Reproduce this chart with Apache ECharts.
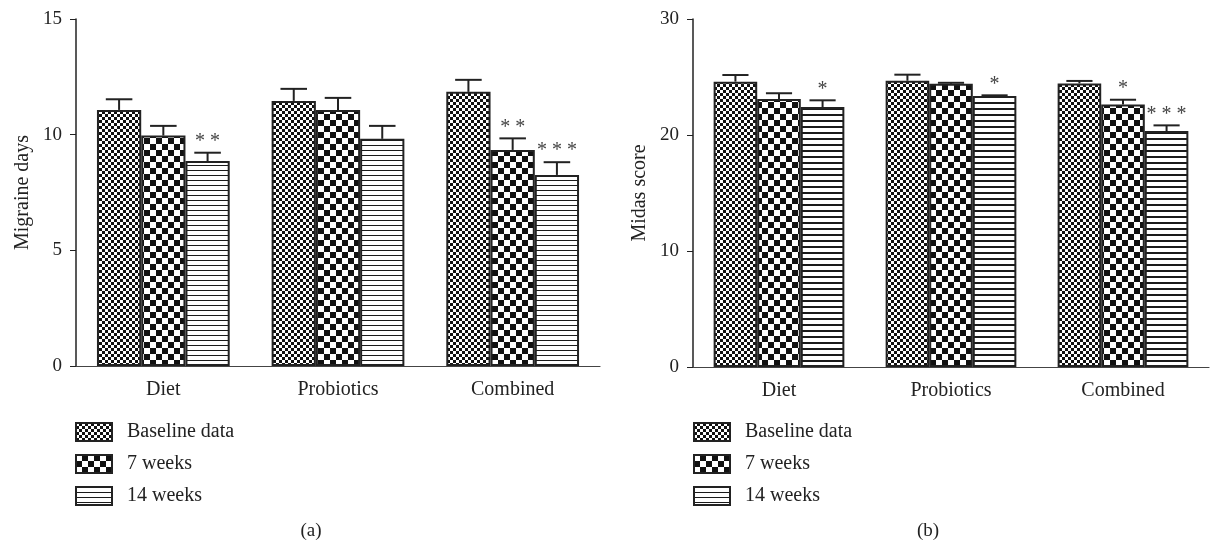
<!DOCTYPE html>
<html>
<head>
<meta charset="utf-8">
<script src="https://cdn.jsdelivr.net/npm/echarts@6/dist/echarts.min.js"></script>
<style>
html,body{margin:0;padding:0;background:#fff;}
#c{width:1215px;height:546px;}
</style>
</head>
<body>
<div id="c"></div>
<script>
// ---- data ----
const categories = ['Diet', 'Probiotics', 'Combined'];
const seriesNames = ['Baseline data', '7 weeks', '14 weeks'];

const migraineBaseline = [11.07, 11.46, 11.85];
const migraine7w = [9.96, 11.07, 9.34];
const migraine14w = [8.86, 9.82, 8.26];
const migraineBaselineErr = [0.46, 0.52, 0.52];
const migraine7wErr = [0.42, 0.52, 0.50];
const migraine14wErr = [0.36, 0.56, 0.55];
const migraineStars = [['', '', '* *'], ['', '', ''], ['', '* *', '* * *']]; // [category][series]

const midasBaseline = [24.60, 24.68, 24.45];
const midas7w = [23.10, 24.42, 22.64];
const midas14w = [22.41, 23.36, 20.34];
const midasBaselineErr = [0.57, 0.52, 0.21];
const midas7wErr = [0.50, 0.08, 0.40];
const midas14wErr = [0.58, 0.06, 0.49];
const midasStars = [['', '', '*'], ['', '', '*'], ['', '*', '* * *']];

const migraineTicks = { min: 0, max: 15, interval: 5 };
const midasTicks = { min: 0, max: 30, interval: 10 };

// ---- patterns ----
function checker(cell) {
  const c = document.createElement('canvas');
  c.width = cell * 2; c.height = cell * 2;
  const g = c.getContext('2d');
  g.fillStyle = '#111'; g.fillRect(0, 0, c.width, c.height);
  g.fillStyle = '#ffffff';
  g.fillRect(0, 0, cell, cell);
  g.fillRect(cell, cell, cell, cell);
  return c;
}
function hlines(period, thick) {
  const c = document.createElement('canvas');
  c.width = 8; c.height = period;
  const g = c.getContext('2d');
  g.fillStyle = '#ffffff'; g.fillRect(0, 0, 8, period);
  g.fillStyle = '#1a1a1a'; g.fillRect(0, 0, 8, thick);
  return c;
}
const patFine = { image: checker(3), repeat: 'repeat' };
const patCoarse = { image: checker(6), repeat: 'repeat' };
const patLinesA = { image: hlines(5, 1), repeat: 'repeat' };
const patLinesB = { image: hlines(6, 2), repeat: 'repeat' };

const FONT = '"Liberation Serif", "DejaVu Serif", serif';
const INK = '#222';
const GAP = 0.24;

function barSeries(name, data, pat, idx) {
  return {
    type: 'bar', name: name, data: data,
    xAxisIndex: idx, yAxisIndex: idx,
    barGap: '0%', barCategoryGap: (GAP * 100) + '%',
    itemStyle: { color: pat, borderColor: INK, borderWidth: 2 },
    emphasis: { disabled: true },
    z: 2
  };
}

function errData(vals, errs, stars) {
  const out = [];
  for (let s = 0; s < 3; s++) {
    for (let c = 0; c < categories.length; c++) {
      out.push([c, vals[s][c], errs[s][c], s, stars[c][s]]);
    }
  }
  return out;
}

function makeRender(dataArr) {
  return function (params, api) {
    const item = dataArr[params.dataIndex];
    const cat = item[0], v = item[1], e = item[2], s = item[3], star = item[4];
    const center = api.coord([cat, v]);
    const band = api.size([1, 0])[0];
    const barW = band * (1 - GAP) / 3;
    const x = center[0] - barW * 1.5 + barW * (s + 0.5);
    const yTop = center[1];
    const yCap = api.coord([cat, v + e])[1];
    const capW = barW * 0.6;
    const children = [
      { type: 'line', shape: { x1: x, y1: yTop, x2: x, y2: yCap }, style: { stroke: INK, lineWidth: 2 } },
      { type: 'line', shape: { x1: x - capW / 2, y1: yCap, x2: x + capW / 2, y2: yCap }, style: { stroke: INK, lineWidth: 2 } }
    ];
    if (star) {
      children.push({ type: 'text', style: { text: star, x: x, y: yCap - 1, textAlign: 'center', textVerticalAlign: 'bottom', font: '20px ' + FONT, fill: '#444' } });
    }
    return { type: 'group', children: children };
  };
}

function xAx(idx) {
  return {
    type: 'category', data: categories, gridIndex: idx,
    axisLine: { lineStyle: { color: '#444', width: 1.2 } },
    axisTick: { alignWithLabel: true, length: 5, lineStyle: { color: '#444' } },
    axisLabel: { fontFamily: FONT, fontSize: 20, color: INK, margin: 14 }
  };
}
function yAx(idx, ticks, name) {
  return {
    type: 'value', gridIndex: idx, min: ticks.min, max: ticks.max, interval: ticks.interval,
    name: name, nameLocation: 'middle', nameGap: 43,
    nameTextStyle: { fontFamily: FONT, fontSize: 20, color: INK },
    axisLine: { show: true, lineStyle: { color: '#222', width: 1.5 } },
    axisTick: { show: true, length: 6, lineStyle: { color: '#222' } },
    axisLabel: { fontFamily: FONT, fontSize: 19, color: INK, margin: 14 },
    splitLine: { show: false }
  };
}

function legend(left) {
  return {
    orient: 'vertical', left: left, top: 422, padding: 0,
    itemWidth: 36, itemHeight: 18, itemGap: 12,
    icon: 'rect',
    data: seriesNames,
    selectedMode: false,
    textStyle: { fontFamily: FONT, fontSize: 20, color: INK, padding: [0, 0, 0, 10] }
  };
}

const migraineErrData = errData([migraineBaseline, migraine7w, migraine14w], [migraineBaselineErr, migraine7wErr, migraine14wErr], migraineStars);
const midasErrData = errData([midasBaseline, midas7w, midas14w], [midasBaselineErr, midas7wErr, midas14wErr], midasStars);

const chart = echarts.init(document.getElementById('c'));
chart.setOption({
  animation: false,
  backgroundColor: '#fff',
  grid: [
    { left: 76, right: 615, top: 19, bottom: 180 },
    { left: 693, right: 6, top: 19, bottom: 179 }
  ],
  title: [
    { text: '(a)', left: 306, top: 517, textAlign: 'center', textStyle: { fontFamily: FONT, fontSize: 19, fontWeight: 'normal', color: INK } },
    { text: '(b)', left: 923, top: 517, textAlign: 'center', textStyle: { fontFamily: FONT, fontSize: 19, fontWeight: 'normal', color: INK } }
  ],
  legend: [legend(75), legend(693)],
  xAxis: [xAx(0), xAx(1)],
  yAxis: [yAx(0, migraineTicks, 'Migraine days'), yAx(1, midasTicks, 'Midas score')],
  series: [
    barSeries(seriesNames[0], migraineBaseline, patFine, 0),
    barSeries(seriesNames[1], migraine7w, patCoarse, 0),
    barSeries(seriesNames[2], migraine14w, patLinesA, 0),
    {
      type: 'custom', xAxisIndex: 0, yAxisIndex: 0, clip: false, z: 5,
      renderItem: makeRender(migraineErrData),
      data: migraineErrData.map(d => [d[0], d[1] + d[2], d[3]]),
      encode: { x: 0, y: 1 }
    },
    barSeries(seriesNames[0], midasBaseline, patFine, 1),
    barSeries(seriesNames[1], midas7w, patCoarse, 1),
    barSeries(seriesNames[2], midas14w, patLinesB, 1),
    {
      type: 'custom', xAxisIndex: 1, yAxisIndex: 1, clip: false, z: 5,
      renderItem: makeRender(midasErrData),
      data: midasErrData.map(d => [d[0], d[1] + d[2], d[3]]),
      encode: { x: 0, y: 1 }
    }
  ]
});
</script>
</body>
</html>
